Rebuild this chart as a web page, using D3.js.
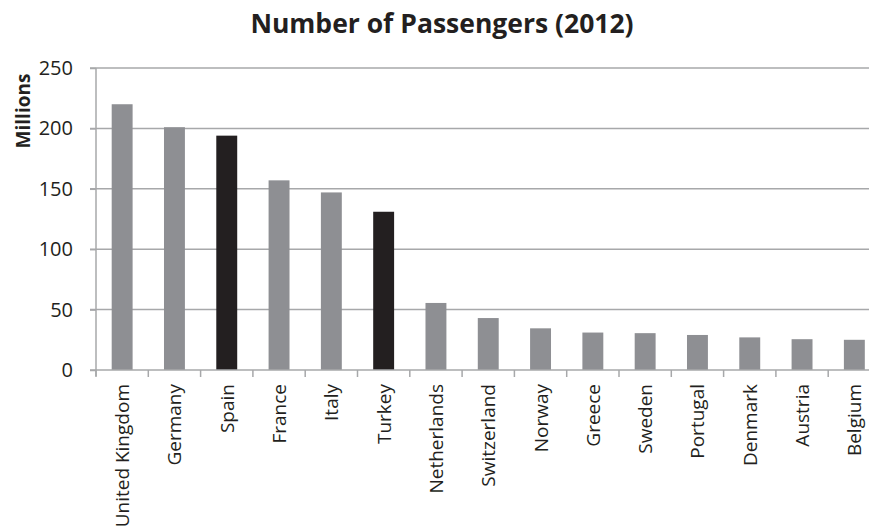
<!DOCTYPE html>
<html>
<head>
<meta charset="utf-8">
<script src="https://cdn.jsdelivr.net/npm/d3@7"></script>
<style>
    body { margin: 0; background: #fff; }
    text { font-family: "Open Sans", sans-serif; fill: #231f20; }
</style>
</head>
<body>
<div id="chartDiv"></div>
<script>
"use strict";

// chart data
var countries = ["United Kingdom", "Germany", "Spain", "France", "Italy", "Turkey", "Netherlands",
                 "Switzerland", "Norway", "Greece", "Sweden", "Portugal", "Denmark", "Austria", "Belgium"];
var passengers = [220, 201, 194, 157, 147, 131, 55.5, 43, 34.5, 31, 30.5, 29, 27, 25.5, 25];
var highlighted = ["Spain", "Turkey"];
var yTicks = [0, 50, 100, 150, 200, 250];

// svg parameters
var svgWidth = 869;
var svgHeight = 532;
var plotLeft = 96, plotRight = 880.5, plotTop = 68, plotBottom = 370;

var svg = d3.select("#chartDiv").append("svg").attr("width", svgWidth).attr("height", svgHeight);

var x = d3.scaleBand().domain(countries).range([plotLeft, plotRight]).paddingInner(0.6).paddingOuter(0.3);
var y = d3.scaleLinear().domain([0, 250]).range([plotBottom, plotTop]);

// horizontal gridlines
svg.append("g").selectAll("line").data(yTicks.slice(1)).enter()
    .append("line")
    .attr("x1", plotLeft - 6).attr("x2", svgWidth)
    .attr("y1", function (d) { return y(d); })
    .attr("y2", function (d) { return y(d); })
    .attr("stroke", "#a7a8aa").attr("stroke-width", 1.5);

// bars
svg.append("g").selectAll("rect").data(countries).enter()
    .append("rect")
    .attr("x", function (d) { return x(d); })
    .attr("y", function (d, i) { return y(passengers[i]); })
    .attr("width", x.bandwidth())
    .attr("height", function (d, i) { return y(0) - y(passengers[i]); })
    .attr("fill", function (d) { return highlighted.indexOf(d) >= 0 ? "#231f20" : "#8e8f93"; });

// y axis
var yAxis = svg.append("g").attr("transform", "translate(" + plotLeft + ",0)")
    .call(d3.axisLeft(y).tickValues(yTicks).tickSize(6).tickPadding(17));
yAxis.select(".domain").attr("stroke", "#a7a8aa").attr("stroke-width", 1.5).attr("d", "M0," + plotTop + "V" + (plotBottom + 6));
yAxis.selectAll(".tick line").attr("stroke", "#a7a8aa").attr("stroke-width", 1.5);
yAxis.selectAll(".tick text").style("font-size", "20px").attr("fill", "#231f20");

// x axis, ticks sit between the categories
var xAxis = svg.append("g").attr("transform", "translate(0," + plotBottom + ")");
xAxis.append("line").attr("x1", plotLeft - 6).attr("x2", svgWidth)
    .attr("stroke", "#a7a8aa").attr("stroke-width", 1.5);
xAxis.selectAll("line.sep").data(d3.range(countries.length + 1)).enter()
    .append("line").attr("class", "sep")
    .attr("x1", function (i) { return plotLeft + i * x.step(); })
    .attr("x2", function (i) { return plotLeft + i * x.step(); })
    .attr("y1", 0).attr("y2", 7)
    .attr("stroke", "#a7a8aa").attr("stroke-width", 1.5);
xAxis.selectAll("text").data(countries).enter()
    .append("text")
    .attr("transform", function (d) {
        return "translate(" + (x(d) + x.bandwidth() / 2 + 7) + ",14) rotate(-90)";
    })
    .attr("text-anchor", "end")
    .style("font-size", "19px")
    .text(function (d) { return d; });

// title and axis label
svg.append("text").attr("x", 442).attr("y", 33).attr("text-anchor", "middle")
    .style("font-size", "26.5px").style("font-weight", "bold")
    .text("Number of Passengers (2012)");
svg.append("text").attr("transform", "translate(30,111) rotate(-90)").attr("text-anchor", "middle")
    .style("font-size", "19px").style("font-weight", "bold")
    .text("Millions");
</script>
</body>
</html>
